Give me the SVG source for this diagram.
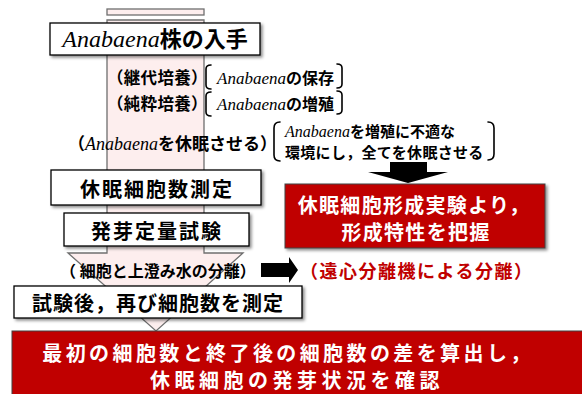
<svg xmlns="http://www.w3.org/2000/svg" width="582" height="394" viewBox="0 0 582 394">
<defs>
<filter id="sh" x="-10%" y="-20%" width="125%" height="160%">
<feDropShadow dx="2" dy="2" stdDeviation="1.5" flood-color="#000" flood-opacity="0.45"/>
</filter>
<style>
.box{fill:#fff;stroke:#000;stroke-width:1.3;filter:url(#sh)}
.red{fill:#c00000;stroke:#404040;stroke-width:1}
.jp{font-family:"Noto Sans CJK JP","Noto Sans CJK SC",sans-serif;font-weight:bold;fill:#000}
.w{fill:#fff}
.br{fill:none;stroke:#000;stroke-width:1.6;stroke-linecap:round}
.bg{fill:#fdeeee;stroke:#6f6f6f;stroke-width:1.3}
</style>
</defs>
<rect width="582" height="394" fill="#fff"/>
<g id="bigArrow">
<rect class="bg" x="107" y="9" width="97" height="6"/>
<path class="bg" d="M107,20 H204 V253 H243 L156,331 L68,253 H107 Z"/>
</g>
<g id="connectors">
<path d="M390,162 H427 V172 H448 L408,183 L368,172 H390 Z" fill="#000"/>
<path d="M261,263 H289 V257 L298,270 L289,283 V277 H261 Z" fill="#000"/>
</g>
<g id="n1">
<rect class="box" x="50" y="23" width="210" height="32"/>
<text class="jp" x="155" y="47" font-size="22" text-anchor="middle"><tspan style="font-family:'Liberation Serif','Times New Roman','DejaVu Serif',serif;font-style:italic;font-weight:normal;font-size:24px">Anabaena</tspan>株の入手</text>
</g>
<g id="l1">
<text class="jp" x="107" y="84" font-size="16.5" letter-spacing="0.3">（継代培養）</text>
<path class="br" d="M211,65 Q206,65 206,69 V85 Q206,89 211,89"/>
<text class="jp" x="217" y="84" font-size="16"><tspan style="font-family:'Liberation Serif','Times New Roman','DejaVu Serif',serif;font-style:italic;font-weight:normal;font-size:17px">Anabaena</tspan>の保存</text>
<path class="br" d="M337,64 Q342,64 342,68 V84 Q342,88 337,88"/>
</g>
<g id="l2">
<text class="jp" x="107" y="110" font-size="16.5" letter-spacing="0.3">（純粋培養）</text>
<path class="br" d="M211,92 Q206,92 206,96 V112 Q206,116 211,116"/>
<text class="jp" x="217" y="110" font-size="16"><tspan style="font-family:'Liberation Serif','Times New Roman','DejaVu Serif',serif;font-style:italic;font-weight:normal;font-size:17px">Anabaena</tspan>の増殖</text>
<path class="br" d="M337,91 Q342,91 342,95 V110 Q342,114 337,114"/>
</g>
<g id="l3">
<text class="jp" x="68" y="150" font-size="17">（<tspan style="font-family:'Liberation Serif','Times New Roman','DejaVu Serif',serif;font-style:italic;font-weight:normal;font-size:18px">Anabaena</tspan>を休眠させる）</text>
<path class="br" d="M280,122 Q274,122 274,128 V155 Q274,161 280,161"/>
<text class="jp" x="285" y="137" font-size="15"><tspan style="font-family:'Liberation Serif','Times New Roman','DejaVu Serif',serif;font-style:italic;font-weight:normal;font-size:16px">Anabaena</tspan>を増殖に不適な</text>
<text class="jp" x="285" y="158" font-size="15" letter-spacing="0.3">環境にし，全てを休眠させる</text>
<path class="br" d="M488,122 Q494,122 494,128 V154 Q494,160 488,160"/>
</g>
<g id="n2">
<rect class="box" x="51" y="170" width="210" height="35"/>
<text class="jp" x="157" y="197" font-size="20" letter-spacing="2" text-anchor="middle">休眠細胞数測定</text>
</g>
<g id="n3">
<rect class="box" x="64" y="213" width="185" height="33"/>
<text class="jp" x="157" y="239" font-size="20" letter-spacing="2" text-anchor="middle">発芽定量試験</text>
</g>
<g id="r1">
<rect class="red" x="285" y="184" width="260" height="64" filter="url(#sh)"/>
<text class="jp w" x="414" y="213" font-size="20" letter-spacing="1.3" text-anchor="middle">休眠細胞形成実験より，</text>
<text class="jp w" x="416" y="240" font-size="20" letter-spacing="1.3" text-anchor="middle">形成特性を把握</text>
</g>
<g id="l4">
<text class="jp" x="60" y="277" font-size="16">（ 細胞と上澄み水の分離）</text>
<text class="jp" x="300" y="278" font-size="18" letter-spacing="1.5" style="fill:#c00000">（遠心分離機による分離）</text>
</g>
<g id="n4">
<rect class="box" x="14" y="286" width="288" height="32"/>
<text class="jp" x="158" y="311" font-size="20" letter-spacing="1" text-anchor="middle">試験後，再び細胞数を測定</text>
</g>
<g id="r2">
<rect class="red" x="12" y="331" width="580" height="70"/>
<text class="jp w" x="288" y="361" font-size="20" letter-spacing="3.4" text-anchor="middle">最初の細胞数と終了後の細胞数の差を算出し，</text>
<text class="jp w" x="297" y="388" font-size="20" letter-spacing="4.5" text-anchor="middle">休眠細胞の発芽状況を確認</text>
</g>
</svg>
